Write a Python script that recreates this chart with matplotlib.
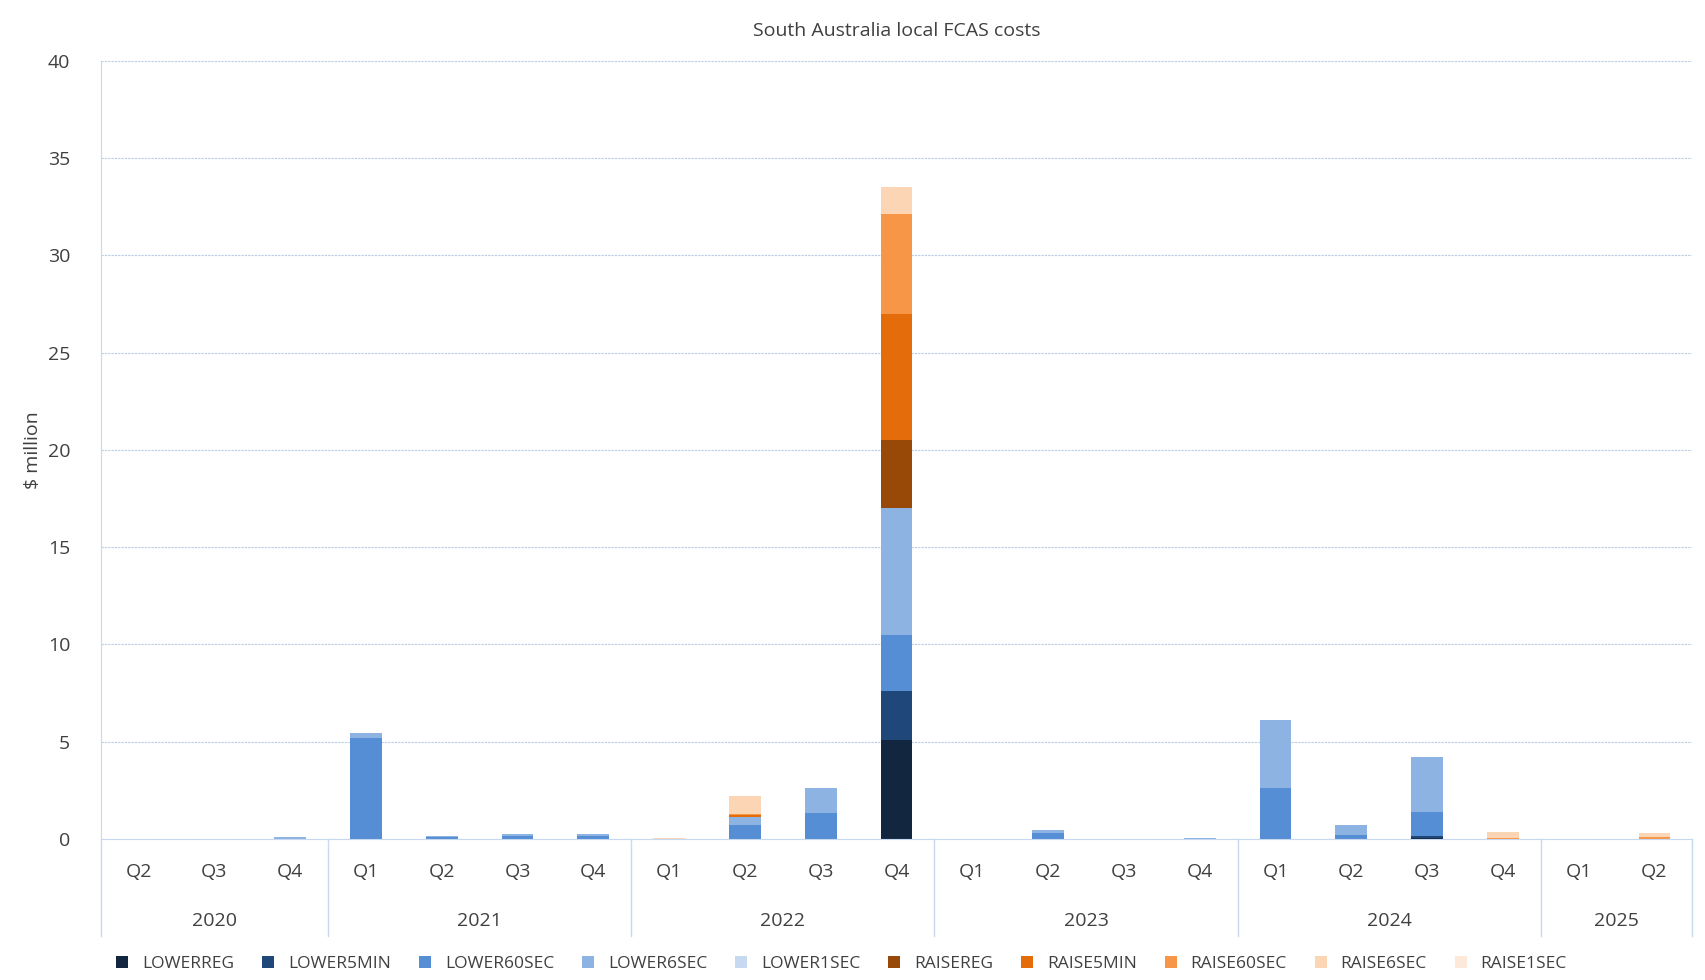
import matplotlib
matplotlib.use("Agg")
import matplotlib.pyplot as plt
import numpy as np

plt.rcParams.update({"font.family": "Open Sans", "font.size": 12})

quarters = ["Q2", "Q3", "Q4", "Q1", "Q2", "Q3", "Q4", "Q1", "Q2", "Q3", "Q4",
            "Q1", "Q2", "Q3", "Q4", "Q1", "Q2", "Q3", "Q4", "Q1", "Q2"]
years = ["2020", "2021", "2022", "2023", "2024", "2025"]
year_counts = [3, 4, 4, 4, 4, 2]

series_names = ["LOWERREG", "LOWER5MIN", "LOWER60SEC", "LOWER6SEC", "LOWER1SEC",
                "RAISEREG", "RAISE5MIN", "RAISE60SEC", "RAISE6SEC", "RAISE1SEC"]
colors = ["#12263f", "#1f477a", "#558ed5", "#8db3e2", "#c6d9f1",
          "#984807", "#e46c0a", "#f79646", "#fcd5b5", "#fde9d9"]

lowerreg   = [0, 0, 0,    0,    0,    0,    0,    0, 0,    0,    5.1, 0, 0,    0, 0,    0,   0,   0.05, 0,    0, 0]
lower5min  = [0, 0, 0,    0,    0,    0,    0,    0, 0,    0,    2.5, 0, 0,    0, 0,    0,   0,   0.1,  0,    0, 0]
lower60sec = [0, 0, 0,    5.2,  0.1,  0.15, 0.15, 0, 0.7,  1.35, 2.9, 0, 0.3,  0, 0,    2.6, 0.2, 1.25, 0,    0, 0]
lower6sec  = [0, 0, 0.1,  0.25, 0.05, 0.08, 0.08, 0, 0.4,  1.25, 6.5, 0, 0.15, 0, 0.05, 3.5, 0.5, 2.8,  0,    0, 0]
lower1sec  = [0] * 21
raisereg   = [0, 0, 0,    0,    0,    0,    0,    0, 0.05, 0,    3.5, 0, 0,    0, 0,    0,   0,   0,    0,    0, 0]
raise5min  = [0, 0, 0,    0,    0,    0,    0,    0, 0.1,  0,    6.5, 0, 0,    0, 0,    0,   0,   0,    0,    0, 0]
raise60sec = [0, 0, 0,    0,    0,    0,    0,    0, 0.05, 0,    5.1, 0, 0,    0, 0,    0,   0,   0,    0.05, 0, 0.1]
raise6sec  = [0, 0, 0,    0,    0,    0,    0,    0.05, 0.9, 0,  1.4, 0, 0,    0, 0,    0,   0,   0,    0.3,  0, 0.2]
raise1sec  = [0] * 21

data = [lowerreg, lower5min, lower60sec, lower6sec, lower1sec,
        raisereg, raise5min, raise60sec, raise6sec, raise1sec]

fig = plt.figure(figsize=(17.06, 9.8), dpi=100)
ax = fig.add_axes([0.059, 0.144, 0.933, 0.794])
x = np.arange(len(quarters))
bottom = np.zeros(len(quarters))
for name, vals, c in zip(series_names, data, colors):
    ax.bar(x, vals, 0.42, bottom=bottom, color=c, label=name)
    bottom += np.array(vals)

ax.set_xlim(-0.5, len(quarters) - 0.5)
ax.set_ylim(0, 40)
ax.set_yticks(range(0, 41, 5))
ax.tick_params(axis="y", length=0, labelsize=14, colors="#404040", pad=22)
ax.set_xticks([])
ax.grid(axis="y", color="#b8cce4", ls=(0, (2, 1)), lw=0.8)
ax.set_axisbelow(True)
for s in ["top", "right"]:
    ax.spines[s].set_visible(False)
ax.spines["left"].set_color("#c6d9f1")
ax.spines["bottom"].set_color("#c6d9f1")
ax.set_ylabel("$ million", fontsize=14, color="#404040", labelpad=4)
ax.set_title("South Australia local FCAS costs", fontsize=14, color="#404040", pad=18)

trans = ax.get_xaxis_transform()
for i, q in enumerate(quarters):
    ax.text(i, -0.042, q, transform=trans, ha="center", va="center", fontsize=14, color="#404040")
start = 0
for yr, n in zip(years, year_counts):
    ax.text(start + (n - 1) / 2, -0.105, yr, transform=trans, ha="center", va="center",
            fontsize=14, color="#404040")
    ax.plot([start - 0.5, start - 0.5], [0, -0.125], transform=trans, color="#c6d9f1",
            lw=1, clip_on=False)
    start += n
ax.plot([start - 0.5, start - 0.5], [0, -0.125], transform=trans, color="#c6d9f1",
        lw=1, clip_on=False)

ax.legend(loc="upper left", bbox_to_anchor=(0.0, -0.13), ncol=10, frameon=False,
          fontsize=12.5, handlelength=0.7, handleheight=0.7, columnspacing=1.6,
          labelcolor="#404040")

plt.savefig("out.png")
